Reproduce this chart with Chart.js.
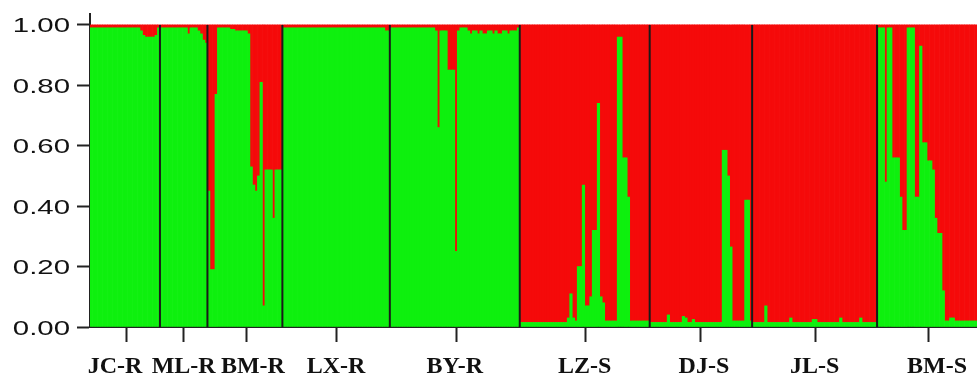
<!DOCTYPE html>
<html>
<head>
<meta charset="utf-8">
<script src="https://cdn.jsdelivr.net/npm/chart.js@4"></script>
<style>
  body { margin: 0; background: #fff; }
  #wrap { width: 977px; height: 381px; }
</style>
</head>
<body>
<div id="wrap"><canvas id="structurePlot"></canvas></div>
<script>
// populations, in plot order
const populations = ['JC-R', 'ML-R', 'BM-R', 'LX-R', 'BY-R', 'LZ-S', 'DJ-S', 'JL-S', 'BM-S'];

// green cluster share per individual (red = the rest)
const jcR = [0.99, 0.99, 0.99, 0.99, 0.99, 0.99, 0.99, 0.99, 0.99, 0.99,
    0.99, 0.99, 0.99, 0.99, 0.99, 0.99, 0.99, 0.99, 0.99, 0.99,
    0.98, 0.965, 0.96, 0.96, 0.96, 0.96, 0.965, 0.99];
const mlR = [0.99, 0.99, 0.99, 0.99, 0.99, 0.99, 0.99, 0.99, 0.99, 0.99,
    0.99, 0.97, 0.99, 0.99, 0.99, 0.98, 0.97, 0.95, 0.94];
const bmR = [0.45, 0.19, 0.19, 0.77, 0.99, 0.99, 0.99, 0.99, 0.99, 0.985,
    0.985, 0.98, 0.98, 0.98, 0.98, 0.98, 0.97, 0.53, 0.47, 0.45,
    0.50, 0.81, 0.07, 0.52, 0.52, 0.52, 0.36, 0.52, 0.52, 0.52];
const lxR = [0.99, 0.99, 0.99, 0.99, 0.99, 0.99, 0.99, 0.99, 0.99, 0.99,
    0.99, 0.99, 0.99, 0.99, 0.99, 0.99, 0.99, 0.99, 0.99, 0.99,
    0.99, 0.99, 0.99, 0.99, 0.99, 0.99, 0.99, 0.99, 0.99, 0.99,
    0.99, 0.99, 0.99, 0.99, 0.99, 0.99, 0.99, 0.99, 0.99, 0.99,
    0.99, 0.98, 0.98];
const byR = [0.99, 0.99, 0.99, 0.99, 0.99, 0.99, 0.99, 0.99, 0.99, 0.99,
    0.99, 0.99, 0.99, 0.99, 0.99, 0.99, 0.99, 0.99, 0.98, 0.66,
    0.98, 0.98, 0.98, 0.85, 0.85, 0.85, 0.25, 0.98, 0.99, 0.99,
    0.99, 0.98, 0.97, 0.98, 0.98, 0.97, 0.98, 0.97, 0.97, 0.98,
    0.98, 0.97, 0.98, 0.97, 0.97, 0.98, 0.98, 0.97, 0.98, 0.98,
    0.98, 0.99];
const lzS = [0.015, 0.015, 0.015, 0.015, 0.015, 0.015, 0.015, 0.015, 0.015, 0.015,
    0.015, 0.015, 0.015, 0.015, 0.015, 0.015, 0.015, 0.015, 0.015, 0.03,
    0.11, 0.03, 0.02, 0.20, 0.20, 0.47, 0.07, 0.07, 0.10, 0.32,
    0.32, 0.74, 0.10, 0.08, 0.02, 0.02, 0.02, 0.02, 0.02, 0.96,
    0.96, 0.56, 0.56, 0.43, 0.02, 0.02, 0.02, 0.02, 0.02, 0.02,
    0.02, 0.02];
const djS = [0.015, 0.015, 0.015, 0.015, 0.015, 0.015, 0.015, 0.04, 0.015, 0.015,
    0.015, 0.015, 0.015, 0.035, 0.03, 0.015, 0.015, 0.025, 0.015, 0.015,
    0.015, 0.015, 0.015, 0.015, 0.015, 0.015, 0.015, 0.015, 0.015, 0.585,
    0.585, 0.50, 0.265, 0.02, 0.02, 0.02, 0.02, 0.02, 0.42, 0.42,
    0.02];
const jlS = [0.015, 0.015, 0.015, 0.015, 0.015, 0.07, 0.015, 0.015, 0.015, 0.015,
    0.015, 0.015, 0.015, 0.015, 0.015, 0.03, 0.015, 0.015, 0.015, 0.015,
    0.015, 0.015, 0.015, 0.015, 0.025, 0.025, 0.015, 0.015, 0.015, 0.015,
    0.015, 0.015, 0.015, 0.015, 0.015, 0.03, 0.015, 0.015, 0.015, 0.015,
    0.015, 0.015, 0.015, 0.03, 0.015, 0.015, 0.015, 0.015, 0.015, 0.015];
const bmS = [0.99, 0.99, 0.99, 0.48, 0.99, 0.99, 0.56, 0.56, 0.56, 0.43,
    0.32, 0.32, 0.99, 0.99, 0.99, 0.43, 0.43, 0.93, 0.61, 0.61,
    0.55, 0.55, 0.52, 0.36, 0.31, 0.31, 0.12, 0.02, 0.02, 0.03,
    0.03, 0.02, 0.02, 0.02, 0.02, 0.02, 0.02, 0.02, 0.02, 0.02];

const greenShares = [jcR, mlR, bmR, lxR, byR, lzS, djS, jlS, bmS];
const yTicks = [0, 0.2, 0.4, 0.6, 0.8, 1.0];

// flatten into one bar per individual
const individuals = [];
const green = [];
const centerIdx = [];
greenShares.forEach((arr, p) => {
    centerIdx.push(individuals.length + Math.floor(arr.length / 2));
    arr.forEach((v, i) => {
        individuals.push(populations[p] + ' ' + (i + 1));
        green.push(v);
    });
});
const red = green.map(v => 1 - v);

// small nudges so the labels sit like in the original figure
const labelNudge = { 'JC-R': -10, 'BM-R': 8, 'DJ-S': 3, 'BM-S': 10 };

const structurePlugin = {
    id: 'structure',
    afterDatasetsDraw(chart) {
        const { ctx, scales: { x, y } } = chart;
        const top = y.getPixelForValue(1);
        const bottom = y.getPixelForValue(0);
        ctx.save();
        ctx.strokeStyle = '#1a1a1a';
        ctx.lineWidth = 2;
        let n = 0;
        greenShares.forEach((arr, p) => {
            n += arr.length;
            if (p === greenShares.length - 1) return;
            const px = (x.getPixelForValue(n - 1) + x.getPixelForValue(n)) / 2;
            ctx.beginPath();
            ctx.moveTo(px, top);
            ctx.lineTo(px, bottom);
            ctx.stroke();
        });
        ctx.restore();
    },
    afterDraw(chart) {
        const { ctx, scales: { x, y } } = chart;
        ctx.save();
        ctx.fillStyle = '#111';
        // y labels (the source text is stretched wide)
        ctx.font = '21px "Liberation Sans", Arial, sans-serif';
        ctx.textAlign = 'right';
        ctx.textBaseline = 'alphabetic';
        yTicks.forEach(v => {
            ctx.save();
            ctx.translate(70, y.getPixelForValue(v) + 7.5);
            ctx.scale(1.4, 1);
            ctx.fillText(v.toFixed(2), 0, 0);
            ctx.restore();
        });
        // population labels
        ctx.font = 'bold 24px "Liberation Serif", "Times New Roman", serif';
        ctx.textAlign = 'center';
        let n = 0;
        greenShares.forEach((arr, p) => {
            const cx = (x.getPixelForValue(n) + x.getPixelForValue(n + arr.length - 1)) / 2;
            n += arr.length;
            ctx.fillText(populations[p], cx + (labelNudge[populations[p]] || 0), 373);
        });
        ctx.restore();
    }
};

new Chart(document.getElementById('structurePlot'), {
    type: 'bar',
    data: {
        labels: individuals,
        datasets: [{
            label: 'Cluster 1',
            data: green,
            backgroundColor: '#0ef00e',
            borderWidth: 0,
            barPercentage: 1,
            categoryPercentage: 1
        }, {
            label: 'Cluster 2',
            data: red,
            backgroundColor: '#f50a0a',
            borderWidth: 0,
            barPercentage: 1,
            categoryPercentage: 1
        }]
    },
    options: {
        responsive: true,
        maintainAspectRatio: false,
        animation: false,
        layout: { padding: { top: 14, right: 0, bottom: 0, left: 0 } },
        plugins: {
            legend: { display: false },
            tooltip: { enabled: false }
        },
        scales: {
            x: {
                stacked: true,
                afterFit: s => { s.height = 54; },
                ticks: { display: false, autoSkip: false },
                grid: {
                    display: true,
                    offset: false,
                    drawOnChartArea: false,
                    drawTicks: true,
                    tickLength: 15,
                    tickWidth: 2,
                    tickColor: c => centerIdx.includes(c.index) ? '#222' : 'rgba(0,0,0,0)'
                },
                border: { display: true, color: '#222', width: 2 }
            },
            y: {
                stacked: true,
                min: 0,
                max: 1.036,
                afterFit: s => { s.width = 90; },
                afterBuildTicks: s => { s.ticks = yTicks.map(v => ({ value: v })); },
                ticks: { display: false },
                grid: {
                    drawOnChartArea: false,
                    drawTicks: true,
                    tickLength: 13,
                    tickWidth: 2,
                    tickColor: '#222'
                },
                border: { display: true, color: '#222', width: 2 }
            }
        }
    },
    plugins: [structurePlugin]
});
</script>
</body>
</html>
